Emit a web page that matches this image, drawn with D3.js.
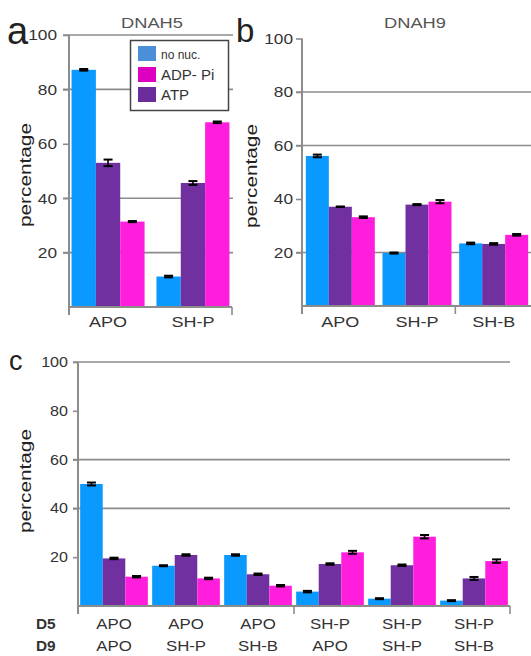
<!DOCTYPE html>
<html>
<head>
<meta charset="utf-8">
<script src="https://cdn.jsdelivr.net/npm/d3@7"></script>
<style>
  body { margin: 0; background: #fff; }
  svg { display: block; font-family: "Liberation Sans", Arial, sans-serif; }
</style>
</head>
<body>
<svg id="fig" width="531" height="656"></svg>
<script>
// bar order inside each group: no nuc., ATP, ADP-Pi
const seriesNames = ["no nuc.", "ATP", "ADP- Pi"];
const barColors = ["#0a99ff", "#7030a0", "#ff1edc"];
const legendOrder = ["no nuc.", "ADP- Pi", "ATP"];
const legendColors = ["#4a8fd8", "#dd00c0", "#6a2c9a"];
const yTicks = [20, 40, 60, 80, 100];

// panel a, DNAH5
const groupsA = ["APO", "SH-P"];
const noNucA = [87.2, 11.2];
const atpA = [53.0, 45.6];
const adpA = [31.4, 67.9];
const noNucErrA = [0.3, 0.3];
const atpErrA = [1.2, 0.7];
const adpErrA = [0.2, 0.3];
const gridA = [100, 80, 40, 20];

// panel b, DNAH9
const groupsB = ["APO", "SH-P", "SH-B"];
const noNucB = [56.1, 19.8, 23.4];
const atpB = [37.1, 37.9, 23.2];
const adpB = [33.2, 39.0, 26.6];
const noNucErrB = [0.5, 0.2, 0.3];
const atpErrB = [0.1, 0.2, 0.3];
const adpErrB = [0.3, 0.6, 0.3];
const gridB = [80, 60, 20];

// panel c, D5 / D9 combinations
const d5 = ["APO", "APO", "APO", "SH-P", "SH-P", "SH-P"];
const d9 = ["APO", "SH-P", "SH-B", "APO", "SH-P", "SH-B"];
const noNucC = [50.0, 16.5, 20.9, 5.9, 3.0, 2.2];
const atpC = [19.5, 20.9, 13.0, 17.2, 16.7, 11.3];
const adpC = [12.0, 11.3, 8.3, 22.0, 28.4, 18.4];
const noNucErrC = [0.6, 0.2, 0.3, 0.3, 0.2, 0.2];
const atpErrC = [0.3, 0.3, 0.3, 0.3, 0.3, 0.6];
const adpErrC = [0.3, 0.3, 0.3, 0.6, 0.7, 0.7];
const gridC = [100, 60, 40];

const svg = d3.select("#fig");

// the source figure's lettering is a little wider than Liberation Sans
function widen(sel, f) {
  sel.each(function () {
    const len = this.getComputedTextLength();
    d3.select(this).attr("textLength", len * f).attr("lengthAdjust", "spacingAndGlyphs");
  });
}

function drawPanel(p) {
  const g = svg.append("g");
  const y = d3.scaleLinear().domain([0, 100]).range([p.y0, p.y100]);
  const keys = p.groups.map((d, i) => i);
  const x = d3.scaleBand().domain(keys).range([p.xLeft, p.xRight])
    .paddingInner(p.padIn).paddingOuter(p.padOut);
  const xs = d3.scaleBand().domain(seriesNames).range([0, x.bandwidth()]);

  // gridlines
  g.selectAll(".grid").data(p.grid).join("line")
    .attr("x1", p.xLeft - p.tick).attr("x2", p.gridEnd)
    .attr("y1", d => y(d)).attr("y2", d => y(d))
    .attr("stroke", "#8c8c8c").attr("stroke-width", 1.6);

  // bars
  const rows = [];
  keys.forEach(k => {
    p.values.forEach((vals, s) => {
      rows.push({k, s, v: vals[k], e: p.errors[s][k]});
    });
  });
  g.selectAll(".bar").data(rows).join("rect")
    .attr("x", d => x(d.k) + xs(seriesNames[d.s]))
    .attr("width", xs.bandwidth())
    .attr("y", d => y(d.v))
    .attr("height", d => y(0) - y(d.v))
    .attr("fill", d => barColors[d.s]);

  // error bars
  const eb = g.selectAll(".err").data(rows).join("g")
    .attr("transform", d => `translate(${x(d.k) + xs(seriesNames[d.s]) + xs.bandwidth() / 2},0)`);
  eb.append("line")
    .attr("y1", d => y(d.v + d.e)).attr("y2", d => y(d.v - d.e))
    .attr("stroke", "#000").attr("stroke-width", 1.6);
  eb.append("line")
    .attr("x1", -p.cap).attr("x2", p.cap)
    .attr("y1", d => y(d.v + d.e)).attr("y2", d => y(d.v + d.e))
    .attr("stroke", "#000").attr("stroke-width", 2);
  eb.append("line")
    .attr("x1", -p.cap).attr("x2", p.cap)
    .attr("y1", d => y(d.v - d.e)).attr("y2", d => y(d.v - d.e))
    .attr("stroke", "#000").attr("stroke-width", 2);

  // y axis
  const ay = g.append("g").attr("transform", `translate(${p.xLeft},0)`)
    .call(d3.axisLeft(y).tickValues(yTicks).tickSize(p.tick).tickPadding(p.tickPad));
  ay.select(".domain").remove();
  ay.selectAll("line").attr("stroke", "#8c8c8c").attr("stroke-width", 1.6);
  ay.selectAll("text").attr("font-size", p.tickFont).attr("fill", "#333")
    .attr("font-family", "Liberation Sans, Arial, sans-serif")
    .call(widen, 1.15);
  g.append("line")
    .attr("x1", p.xLeft).attr("x2", p.xLeft)
    .attr("y1", y(100)).attr("y2", y(0) + 8)
    .attr("stroke", "#8c8c8c").attr("stroke-width", 2);

  // x axis baseline and boundary ticks
  g.append("line")
    .attr("x1", p.xLeft).attr("x2", p.axisEnd)
    .attr("y1", y(0)).attr("y2", y(0))
    .attr("stroke", "#8c8c8c").attr("stroke-width", 2);
  const step = x.step();
  const bx = i => i === 0 ? p.xLeft : (i === keys.length ? p.xRight : x(i) - step * p.padIn / 2);
  g.selectAll(".bt").data(p.bounds).join("line")
    .attr("x1", d => bx(d)).attr("x2", d => bx(d))
    .attr("y1", y(0)).attr("y2", y(0) + 8)
    .attr("stroke", "#8c8c8c").attr("stroke-width", 1.6);

  // category labels
  p.labelRows.forEach((labels, r) => {
    g.selectAll(null).data(keys).join("text")
      .attr("x", d => x(d) + x.bandwidth() / 2)
      .attr("y", p.labelY[r])
      .attr("text-anchor", "middle")
      .attr("font-size", p.labelFont)
      .attr("fill", "#333")
      .text(d => labels[d])
      .call(widen, 1.2);
  });

  // y label
  g.append("text")
    .attr("transform", `translate(${p.yLabelX},${p.yLabelY}) rotate(-90)`)
    .attr("text-anchor", "middle")
    .attr("font-size", 17)
    .attr("fill", "#222")
    .attr("textLength", 104)
    .attr("lengthAdjust", "spacingAndGlyphs")
    .text("percentage");

  // panel letter
  g.append("text")
    .attr("x", p.letterX).attr("y", p.letterY)
    .attr("font-size", p.letterFont)
    .attr("fill", "#222")
    .text(p.letter);

  if (p.title) {
    g.append("text")
      .attr("x", p.titleX).attr("y", 28)
      .attr("text-anchor", "middle")
      .attr("font-size", 15)
      .attr("fill", "#555")
      .attr("textLength", 62)
      .attr("lengthAdjust", "spacingAndGlyphs")
      .text(p.title);
  }
  return g;
}

drawPanel({
  groups: groupsA, values: [noNucA, atpA, adpA], errors: [noNucErrA, atpErrA, adpErrA],
  grid: gridA, y0: 307, y100: 35, xLeft: 69, xRight: 232, padIn: 0.14, padOut: 0.03,
  gridEnd: 233, axisEnd: 232, bounds: [0, 2], tick: 6, tickPad: 6, tickFont: 15, cap: 4.5,
  labelRows: [groupsA], labelY: [327], labelFont: 15,
  yLabelX: 31, yLabelY: 175, letter: "a", letterX: 7, letterY: 44, letterFont: 38,
  title: "DNAH5", titleX: 152
});

drawPanel({
  groups: groupsB, values: [noNucB, atpB, adpB], errors: [noNucErrB, atpErrB, adpErrB],
  grid: gridB, y0: 306, y100: 38.5, xLeft: 302, xRight: 532, padIn: 0.1, padOut: 0.05,
  gridEnd: 531, axisEnd: 531, bounds: [0, 2], tick: 6, tickPad: 3, tickFont: 15, cap: 4.5,
  labelRows: [groupsB], labelY: [327], labelFont: 15,
  yLabelX: 257, yLabelY: 176, letter: "b", letterX: 236, letterY: 42, letterFont: 33,
  title: "DNAH9", titleX: 415
});

const pc = drawPanel({
  groups: d5, values: [noNucC, atpC, adpC], errors: [noNucErrC, atpErrC, adpErrC],
  grid: gridC, y0: 606, y100: 362, xLeft: 78, xRight: 510, padIn: 0.06, padOut: 0.03,
  gridEnd: 510, axisEnd: 510, bounds: [0, 3, 6], tick: 5, tickPad: 5, tickFont: 14, cap: 4.5,
  labelRows: [d5, d9], labelY: [629, 651], labelFont: 14,
  yLabelX: 31, yLabelY: 481, letter: "c", letterX: 9, letterY: 370, letterFont: 27
});

pc.selectAll(".rowname").data(["D5", "D9"]).join("text")
  .attr("x", 36).attr("y", (d, i) => [629, 651][i])
  .attr("font-size", 14).attr("font-weight", "bold").attr("fill", "#333")
  .text(d => d)
  .call(widen, 1.1);

// legend (panel a)
const lg = svg.append("g");
lg.append("rect").attr("x", 130.5).attr("y", 40.5).attr("width", 98).attr("height", 70)
  .attr("fill", "#fff").attr("stroke", "#444").attr("stroke-width", 1.5);
const li = lg.selectAll(".li").data(legendOrder).join("g")
  .attr("transform", (d, i) => `translate(138,${[46, 67, 87][i]})`);
li.append("rect").attr("width", 18).attr("height", 15)
  .attr("fill", (d, i) => legendColors[i]);
li.append("text").attr("x", 23).attr("y", 13)
  .attr("font-size", (d, i) => i === 0 ? 12 : 15)
  .attr("fill", "#333")
  .text(d => d);
</script>
</body>
</html>
